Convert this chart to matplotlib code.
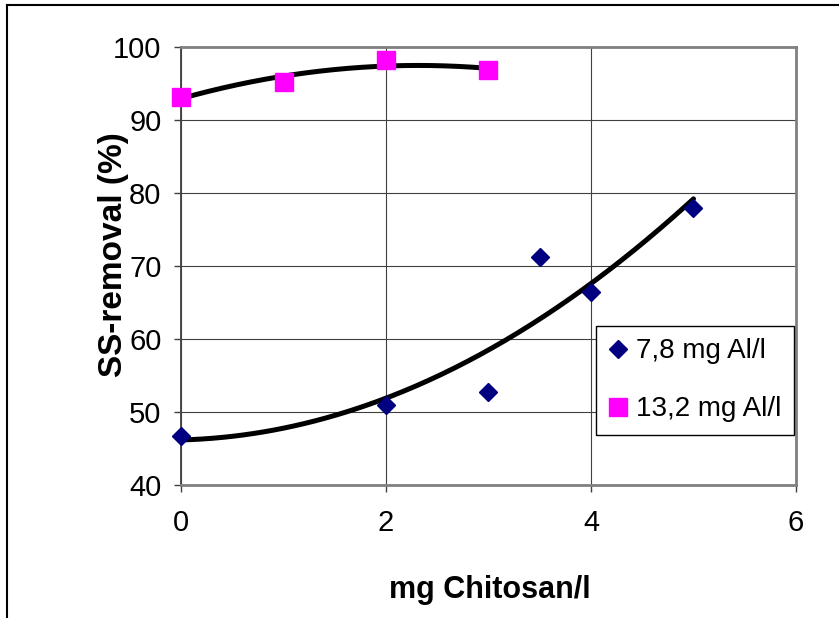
import matplotlib
matplotlib.use("Agg")
import matplotlib.pyplot as plt
from matplotlib.lines import Line2D
import numpy as np

plt.rcParams["font.family"] = ["Liberation Sans", "DejaVu Sans"]

# data
x_al78 = [0, 2, 3, 3.5, 4, 5]
y_al78 = [46.7, 51.0, 52.7, 71.3, 66.4, 78.0]
x_al132 = [0, 1, 2, 3]
y_al132 = [93.2, 95.2, 98.2, 96.8]

label_al78 = "7,8 mg Al/l"
label_al132 = "13,2 mg Al/l"
x_ticks = [0, 2, 4, 6]
y_ticks = [40, 50, 60, 70, 80, 90, 100]

fig = plt.figure(figsize=(8.39, 6.18), dpi=100)
ax = fig.add_axes([181 / 839, 1 - 485 / 618, 615 / 839, 438 / 618])

# polynomial (2nd order) trend lines, like Excel
for xs, ys in [(x_al78, y_al78), (x_al132, y_al132)]:
    coef = np.polyfit(xs, ys, 2)
    xx = np.linspace(min(xs), max(xs), 200)
    ax.plot(xx, np.polyval(coef, xx), color="black", lw=3.6, zorder=3,
            solid_capstyle="round")

ax.plot(x_al78, y_al78, ls="none", marker="D", ms=9.2, color="#000080",
        label=label_al78, zorder=4, clip_on=False)
ax.plot(x_al132, y_al132, ls="none", marker="s", ms=13.5, color="#FF00FF",
        label=label_al132, zorder=4, clip_on=False)

ax.set_xlim(0, 6)
ax.set_ylim(40, 100)
ax.set_xticks(x_ticks)
ax.set_yticks(y_ticks)
ax.grid(True, color="#404040", lw=0.8)
ax.set_axisbelow(True)

ax.tick_params(direction="out", length=5, width=1, color="#404040",
               labelsize=21)
ax.tick_params(axis="x", pad=12)
ax.tick_params(axis="y", pad=9)

ax.spines["left"].set_color("#404040")
ax.spines["left"].set_linewidth(1.3)
for s in ["top", "right", "bottom"]:
    ax.spines[s].set_color("#808080")
    ax.spines[s].set_linewidth(2)

ax.set_xlabel("mg Chitosan/l", fontsize=22, fontweight="bold")
ax.xaxis.label.set_va("center")
ax.xaxis.set_label_coords(0.502, -0.24)
ax.set_ylabel("SS-removal (%)", fontsize=24, fontweight="bold")
ax.yaxis.label.set_va("center")
ax.yaxis.set_label_coords(-0.11, 0.525)

leg = ax.legend(loc="upper left", bbox_to_anchor=((596 - 181) / 615, (485 - 326) / 438),
                borderaxespad=0, fontsize=20, numpoints=1, fancybox=False,
                frameon=True, edgecolor="black", framealpha=1,
                handlelength=0.7, handletextpad=0.3, borderpad=0.45,
                labelspacing=1.15)
leg.get_frame().set_linewidth(1)

# outer chart frame (partly cropped)
fig.add_artist(Line2D([7 / 839, 7 / 839], [0, 1 - 5 / 618], color="black", lw=1.5))
fig.add_artist(Line2D([7 / 839, 1], [1 - 5 / 618, 1 - 5 / 618], color="black", lw=1.5))

fig.savefig("out.png", dpi=100)
